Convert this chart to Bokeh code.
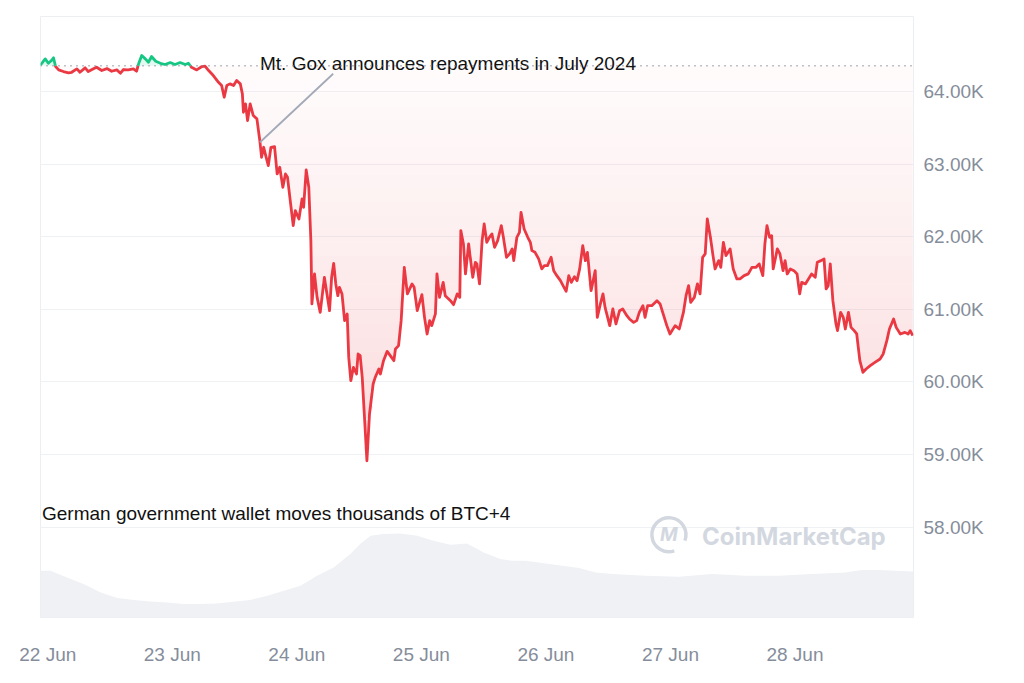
import numpy as np
from bokeh.plotting import figure
from bokeh.models import Range1d, FixedTicker, Span
from bokeh.core.properties import value
from bokeh.embed import file_html
from bokeh.resources import INLINE

# ---- data (hours since 22 Jun 00:00, BTC price in USD) ----
hours = [-1.4, -0.5, 0.1, 0.7, 1.1, 1.5, 2.1, 3.0, 4.0, 4.6, 5.6, 6.2, 7.2, 7.8, 8.8, 9.4, 10.4, 11.4,
         12.3, 13.3, 14.0, 14.6, 15.5, 16.5, 17.1, 17.5, 18.1, 18.8, 19.4, 20.0, 20.8, 21.7, 22.6, 23.6,
         24.5, 25.5, 26.5, 27.1, 27.7, 28.7, 29.7, 30.3, 31.0, 31.9, 32.9, 33.5, 34.0, 34.5, 35.1, 35.8,
         36.4, 37.1, 37.5, 37.7, 38.1, 38.5, 39.0, 39.6, 40.3, 40.9, 41.2, 41.6, 42.0, 42.5, 43.0, 43.7,
         44.2, 44.7, 45.3, 45.8, 46.2, 46.8, 47.3, 47.7, 48.4, 49.0, 49.3, 49.8, 50.3, 50.7, 50.9, 51.4,
         51.9, 52.5, 53.3, 53.8, 54.3, 54.7, 55.1, 55.5, 55.9, 56.2, 56.7, 57.2, 57.7, 58.0, 58.4, 58.9,
         59.5, 59.8, 60.2, 60.6, 61.0, 61.5, 62.0, 62.7, 63.1, 63.8, 64.1, 64.7, 65.4, 66.0, 66.7, 67.0,
         67.6, 68.1, 68.7, 69.3, 70.2, 70.6, 71.2, 72.1, 72.6, 73.1, 73.6, 74.0, 74.7, 75.0, 75.5, 76.2,
         76.6, 77.6, 78.2, 78.9, 79.4, 79.6, 80.1, 80.5, 81.1, 81.9, 82.4, 82.7, 83.2, 83.7, 84.1, 84.6,
         85.1, 85.6, 86.1, 86.7, 87.4, 87.8, 88.4, 89.0, 89.5, 89.8, 90.4, 90.9, 91.2, 91.8, 92.5, 93.0,
         93.3, 93.9, 94.6, 95.2, 95.7, 96.3, 97.0, 97.5, 98.1, 98.8, 99.3, 99.9, 100.4, 100.9, 101.5,
         102.0, 102.5, 103.1, 103.6, 104.0, 104.7, 105.5, 105.9, 106.5, 107.0, 107.4, 108.3, 108.9,
         109.5, 110.2, 110.8, 111.6, 112.1, 112.9, 113.5, 114.0, 114.7, 115.1, 115.6, 116.4, 117.4,
         118.0, 118.7, 119.3, 119.9, 120.9, 121.7, 122.5, 123.0, 123.5, 123.9, 124.6, 125.2, 125.7,
         126.2, 126.7, 127.1, 127.7, 128.2, 128.6, 129.3, 129.7, 130.2, 130.7, 131.5, 132.1, 132.8,
         133.4, 134.2, 135.0, 135.7, 136.5, 137.1, 137.8, 138.2, 138.6, 139.1, 139.5, 139.8, 140.6,
         141.1, 141.7, 142.1, 142.5, 143.1, 143.8, 144.4, 144.9, 145.3, 146.0, 146.6, 147.2, 147.9,
         148.3, 149.0, 149.6, 150.0, 150.4, 150.8, 151.3, 151.9, 152.2, 152.8, 153.3, 153.7, 154.3,
         154.8, 155.4, 155.9, 156.2, 156.5, 157.1, 157.7, 158.5, 159.4, 160.4, 161.0, 161.7, 162.2,
         163.0, 163.5, 164.3, 165.2, 165.8, 166.2, 166.7]
prices = [64370, 64455, 64394, 64432, 64469, 64350, 64303, 64280, 64262, 64270, 64317, 64270, 64331,
          64280, 64317, 64339, 64294, 64321, 64284, 64303, 64257, 64308, 64303, 64317, 64284, 64386,
          64501, 64455, 64408, 64487, 64422, 64394, 64377, 64404, 64377, 64404, 64377, 64394, 64339,
          64303, 64349, 64355, 64294, 64225, 64132, 64087, 63926, 64087, 64110, 64087, 64156, 64110,
          63972, 63719, 63834, 63604, 63834, 63673, 63628, 63305, 63098, 63236, 63121, 62983, 63236,
          63246, 62869, 62960, 62684, 62869, 62822, 62455, 62156, 62363, 62248, 62524, 62408, 62924,
          62684, 61949, 61076, 61490, 61167, 60960, 61443, 61214, 60983, 61443, 61636, 61352, 61190,
          61305, 61214, 60846, 60938, 60339, 60018, 60201, 60110, 60386, 60363, 60063, 59559, 58914,
          59559, 59972, 60063, 60179, 60110, 60294, 60422, 60363, 60294, 60455, 60501, 60846, 61581,
          61214, 61352, 61305, 60983, 61204, 60891, 60662, 60846, 60777, 60938, 61490, 61167, 61374,
          61190, 61121, 61066, 61214, 61167, 62087, 61903, 61490, 61903, 61443, 61650, 61628, 61352,
          61949, 62179, 61926, 61995, 62041, 61857, 61949, 62156, 61995, 61719, 61766, 61835, 61673,
          61995, 62063, 62339, 62110, 61995, 61926, 61811, 61788, 61697, 61559, 61604, 61604, 61719,
          61535, 61466, 61397, 61328, 61250, 61466, 61374, 61452, 61397, 61559, 61880, 61673, 61788,
          61259, 61535, 60891, 61076, 61214, 61029, 60777, 61007, 60800, 60983, 61007, 60914, 60869,
          60822, 60846, 60960, 61052, 60891, 61052, 61052, 61121, 61076, 60914, 60777, 60662, 60777,
          60731, 60960, 61190, 61328, 61098, 61167, 61352, 61214, 61719, 61766, 62248, 61995, 61742,
          61559, 61673, 61581, 61926, 61742, 61835, 61559, 61421, 61421, 61466, 61490, 61581, 61581,
          61628, 61466, 61903, 62156, 61995, 62018, 61559, 61835, 61766, 61535, 61673, 61490, 61559,
          61535, 61490, 61214, 61374, 61352, 61421, 61490, 61443, 61650, 61673, 61697, 61283, 61328,
          61628, 61121, 60800, 60708, 60960, 60891, 60731, 60960, 60753, 60708, 60662, 60477, 60294,
          60132, 60179, 60225, 60270, 60317, 60386, 60570, 60731, 60869, 60753, 60662, 60684, 60662,
          60708, 60639]

# volume (billions USD, arbitrary scale read from the shaded area)
vol_hours = [-1.4, 0.5, 3.7, 6.9, 10.2, 13.4, 16.6, 19.8, 23.0, 26.2, 29.4, 32.6, 35.8, 39.0, 42.3,
             45.5, 48.7, 51.9, 55.1, 58.3, 60.2, 62.2, 64.7, 67.9, 71.2, 74.3, 77.6, 80.8, 84.0,
             87.2, 89.5, 92.1, 95.9, 102.4, 105.6, 108.8, 115.2, 121.6, 128.0, 134.4, 140.9, 147.3,
             153.7, 156.9, 160.1, 163.3, 166.8]
vol_values = [23.4, 23.4, 20.0, 16.7, 12.5, 9.7, 8.7, 8.0, 7.5, 6.7, 6.7, 7.0, 7.9, 8.7, 10.9,
              13.4, 15.9, 20.9, 25.0, 31.7, 36.7, 40.9, 41.7, 42.0, 40.9, 38.4, 36.4, 37.0, 32.5,
              29.2, 28.4, 28.4, 27.0, 24.7, 22.5, 21.7, 20.9, 20.4, 21.7, 20.9, 20.9, 21.7, 22.5,
              23.7, 23.7, 23.4, 23.0]

ref_price = 64360
day_ticks = [0, 24, 48, 72, 96, 120, 144]
day_labels = ["22 Jun", "23 Jun", "24 Jun", "25 Jun", "26 Jun", "27 Jun", "28 Jun"]
price_ticks = [58000, 59000, 60000, 61000, 62000, 63000, 64000]
price_labels = ["58.00K", "59.00K", "60.00K", "61.00K", "62.00K", "63.00K", "64.00K"]
event1_text = "Mt. Gox announces repayments in July 2024"
event1_hour = 40.9
event2_text = "German government wallet moves thousands of BTC+4"

RED = "#ea3943"
GREEN = "#16c784"
GREY = "#858d9b"
FONT = "Liberation Sans"

# ---- derived series: split at reference crossings ----
t = np.array(hours, float)
pr = np.array(prices, float)
tt, pp = [t[0]], [pr[0]]
for i in range(1, len(t)):
    a, b = pr[i - 1] - ref_price, pr[i] - ref_price
    if a * b < 0:
        f = a / (a - b)
        tt.append(t[i - 1] + f * (t[i] - t[i - 1]))
        pp.append(ref_price)
    tt.append(t[i])
    pp.append(pr[i])
tt = np.array(tt)
pp = np.array(pp)
red = np.where(pp <= ref_price, pp, np.nan)
green = np.where(pp >= ref_price, pp, np.nan)

p = figure(frame_width=873, frame_height=601,
           x_range=Range1d(-1.406, 166.84), y_range=Range1d(56753, 65039),
           y_axis_location="right", toolbar_location=None, output_backend="svg",
           min_border_left=40, min_border_top=16, min_border_bottom=5, min_border_right=10,
           background_fill_color="white", border_fill_color="white")
p.extra_y_ranges = {"vol": Range1d(0, 300.5)}
p.outline_line_color = "#eceef2"

# volume
p.varea(x=vol_hours, y1=0, y2=vol_values, y_range_name="vol", fill_color="#eff1f4")

# gradient fill below reference
lo_all = pp.min()
edges = np.linspace(lo_all, ref_price, 30)
for k in range(len(edges) - 1):
    lo, hi = edges[k], edges[k + 1]
    y1 = np.clip(pp, lo, hi)
    frac = (ref_price - (lo + hi) / 2) / (ref_price - lo_all)
    p.varea(x=tt, y1=y1, y2=hi, fill_color=RED, fill_alpha=0.02 + 0.17 * frac ** 1.2)
# faint green fill above reference
p.varea(x=tt, y1=ref_price, y2=np.maximum(pp, ref_price), fill_color=GREEN, fill_alpha=0.12)

ref_span = Span(location=ref_price, dimension="width", line_color="#7d8594",
                line_dash="1 5", line_width=1.3)
p.add_layout(ref_span)

p.line(tt, red, line_color=RED, line_width=2.8, line_join="round")
p.line(tt, green, line_color=GREEN, line_width=2.8, line_join="round")

# event annotations
ev_price = float(np.interp(event1_hour, t, pr))
p.line([event1_hour, event1_hour + 14.1], [ev_price, ref_price - 110],
       line_color="#a3aab7", line_width=1.8)
p.text(x=[event1_hour], y=[ref_price], text=[event1_text], text_font=value(FONT),
       text_font_size="19px", text_color="#111111", text_baseline="alphabetic", y_offset=-2)
p.text(x=[-1.406], y=[58190], text=[event2_text], text_font=value(FONT),
       text_font_size="19px", text_color="#111111", text_baseline="alphabetic", x_offset=1.5)

# watermark
p.arc(x=[119.7], y=[57894], radius=17, radius_units="screen", start_angle=-0.35,
      end_angle=-1.25, direction="anticlock", line_color="#d3d8e0", line_width=3.5)
p.text(x=[119.7], y=[57894], text=["M"], text_font=value("Inter"), text_font_style="bold italic",
       text_font_size="19px", text_color="#d3d8e0", text_align="center", text_baseline="middle")
p.text(x=[126.1], y=[57866], text=["CoinMarketCap"], text_font=value("Inter"),
       text_font_style="bold", text_font_size="24px", text_color="#d3d8e0",
       text_baseline="middle")

# axes
ya = p.yaxis[0]
ya.ticker = FixedTicker(ticks=price_ticks)
ya.major_label_overrides = dict(zip(price_ticks, price_labels))
xa = p.xaxis[0]
xa.ticker = FixedTicker(ticks=day_ticks)
xa.major_label_overrides = dict(zip(day_ticks, day_labels))
for ax in (xa, ya):
    ax.axis_line_color = None
    ax.major_tick_line_color = None
    ax.minor_tick_line_color = None
    ax.major_label_text_font = FONT
    ax.major_label_text_font_size = "19px"
    ax.major_label_text_color = GREY
ya.major_label_standoff = 4
xa.major_label_standoff = 20
p.xgrid.grid_line_color = None
p.ygrid.grid_line_color = "#eff2f5"
p.ygrid.grid_line_width = 1

open("out.html", "w").write(file_html(p, INLINE))
